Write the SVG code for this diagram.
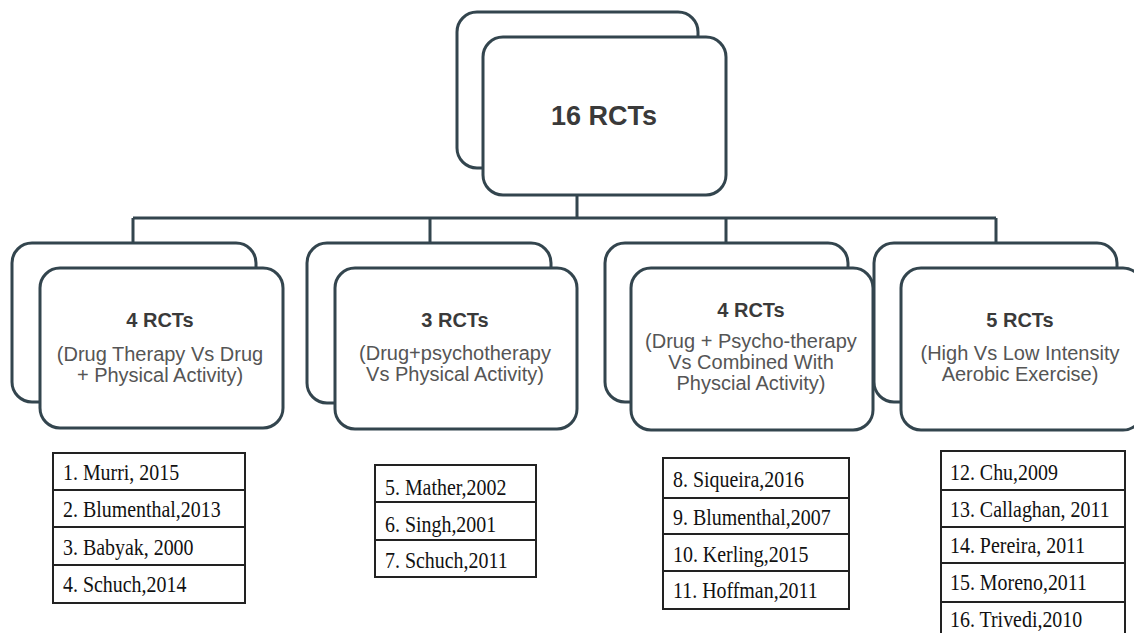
<svg xmlns="http://www.w3.org/2000/svg" width="1134" height="633" viewBox="0 0 1134 633">
<style>
.box{fill:#fff;stroke:#33454e;stroke-width:3}
.conn{fill:none;stroke:#33454e;stroke-width:3}
.ttl{font-family:"Liberation Sans",Arial,sans-serif;font-weight:bold;fill:#3a3a3a;text-anchor:middle}
.dsc{font-family:"Liberation Sans",Arial,sans-serif;font-size:20px;fill:#555;text-anchor:middle}
.tb{fill:#fff;stroke:#222;stroke-width:2}
.tl{stroke:#222;stroke-width:2}
.ref{font-family:"Liberation Serif","Times New Roman",serif;font-size:24px;fill:#111}
</style>
<rect width="1134" height="633" fill="#fff"/>
<g id="connectors">
<path class="conn" d="M577 195V218M133 218H996M133 218V243M430 218V243M726 218V243M996 218V243"/>
</g>
<g id="root">
<rect class="box" x="457" y="12" width="241" height="156" rx="20"/>
<rect class="box" x="483" y="37" width="243" height="158" rx="20"/>
<text class="ttl" x="604" y="125" font-size="27">16 RCTs</text>
</g>
<g id="group1">
<rect class="box" x="12" y="243" width="244" height="159" rx="20"/>
<rect class="box" x="40" y="268" width="243" height="160" rx="20"/>
<text class="ttl" x="160" y="327" font-size="20">4 RCTs</text>
<text class="dsc" x="160" y="361">(Drug Therapy Vs Drug</text>
<text class="dsc" x="160" y="382">+ Physical Activity)</text>
</g>
<g id="group2">
<rect class="box" x="307" y="243" width="244" height="160" rx="20"/>
<rect class="box" x="335" y="268" width="242" height="161" rx="20"/>
<text class="ttl" x="455" y="327" font-size="20">3 RCTs</text>
<text class="dsc" x="455" y="360">(Drug+psychotherapy</text>
<text class="dsc" x="455" y="381">Vs Physical Activity)</text>
</g>
<g id="group3">
<rect class="box" x="605" y="243" width="243" height="159" rx="20"/>
<rect class="box" x="631" y="268" width="242" height="162" rx="20"/>
<text class="ttl" x="751" y="317" font-size="20">4 RCTs</text>
<text class="dsc" x="751" y="348">(Drug + Psycho-therapy</text>
<text class="dsc" x="751" y="369">Vs Combined With</text>
<text class="dsc" x="751" y="390">Physcial Activity)</text>
</g>
<g id="group4">
<rect class="box" x="874" y="243" width="243" height="159" rx="20"/>
<rect class="box" x="901" y="268" width="242" height="162" rx="20"/>
<text class="ttl" x="1020" y="327" font-size="20">5 RCTs</text>
<text class="dsc" x="1020" y="360">(High Vs Low Intensity</text>
<text class="dsc" x="1020" y="381">Aerobic Exercise)</text>
</g>
<g id="table1">
<rect class="tb" x="53" y="453" width="192" height="150"/>
<path class="tl" d="M53 490H245M53 527H245M53 565H245"/>
<text class="ref" transform="translate(63 480) scale(0.83 1)">1. Murri, 2015</text>
<text class="ref" transform="translate(63 517) scale(0.83 1)">2. Blumenthal,2013</text>
<text class="ref" transform="translate(63 555) scale(0.83 1)">3. Babyak, 2000</text>
<text class="ref" transform="translate(63 592) scale(0.83 1)">4. Schuch,2014</text>
</g>
<g id="table2">
<rect class="tb" x="375" y="465" width="161" height="112"/>
<path class="tl" d="M375 502H536M375 540H536"/>
<text class="ref" transform="translate(385 495) scale(0.83 1)">5. Mather,2002</text>
<text class="ref" transform="translate(385 532) scale(0.83 1)">6. Singh,2001</text>
<text class="ref" transform="translate(385 568) scale(0.83 1)">7. Schuch,2011</text>
</g>
<g id="table3">
<rect class="tb" x="663" y="458" width="186" height="151"/>
<path class="tl" d="M663 498H849M663 534H849M663 571H849"/>
<text class="ref" transform="translate(673 487) scale(0.83 1)">8. Siqueira,2016</text>
<text class="ref" transform="translate(673 525) scale(0.83 1)">9. Blumenthal,2007</text>
<text class="ref" transform="translate(673 562) scale(0.83 1)">10. Kerling,2015</text>
<text class="ref" transform="translate(673 598) scale(0.83 1)">11. Hoffman,2011</text>
</g>
<g id="table4">
<rect class="tb" x="941" y="451" width="184" height="200"/>
<path class="tl" d="M941 490H1125M941 527H1125M941 563H1125M941 602H1125"/>
<text class="ref" transform="translate(950 480) scale(0.83 1)">12. Chu,2009</text>
<text class="ref" transform="translate(950 517) scale(0.83 1)">13. Callaghan, 2011</text>
<text class="ref" transform="translate(950 553) scale(0.83 1)">14. Pereira, 2011</text>
<text class="ref" transform="translate(950 590) scale(0.83 1)">15. Moreno,2011</text>
<text class="ref" transform="translate(950 627) scale(0.83 1)">16. Trivedi,2010</text>
</g>
</svg>
